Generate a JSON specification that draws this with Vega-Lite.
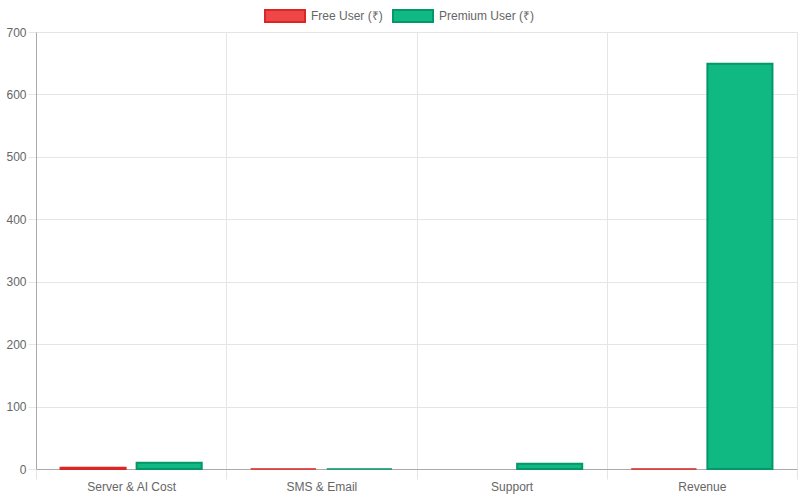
{
  "$schema": "https://vega.github.io/schema/vega-lite/v6.json",
  "width": 761,
  "height": 437,
  "autosize": {"type": "none"},
  "padding": {"left": 36, "top": 32, "right": 3, "bottom": 31},
  "background": "white",
  "config": {
    "font": "Liberation Sans",
    "view": {"stroke": "#e5e5e5", "strokeWidth": 1},
    "axis": {"labelFont": "Liberation Sans", "labelFontSize": 12, "labelColor": "#666666", "gridColor": "#e5e5e5", "tickColor": "#e5e5e5", "domainColor": "#aaaaaa", "title": null}
  },
  "data": {
    "values": [
      {"category": "Server & AI Cost", "series": "Free User (₹)", "value": 2},
      {"category": "Server & AI Cost", "series": "Premium User (₹)", "value": 10},
      {"category": "SMS & Email", "series": "Free User (₹)", "value": 0.1},
      {"category": "SMS & Email", "series": "Premium User (₹)", "value": 0.1},
      {"category": "Support", "series": "Free User (₹)", "value": 0},
      {"category": "Support", "series": "Premium User (₹)", "value": 8.5},
      {"category": "Revenue", "series": "Free User (₹)", "value": 0.1},
      {"category": "Revenue", "series": "Premium User (₹)", "value": 649}
    ]
  },
  "mark": {"type": "bar", "strokeWidth": 2},
  "encoding": {
    "x": {
      "field": "category", "type": "nominal", "sort": null,
      "scale": {"paddingInner": 0, "paddingOuter": 0},
      "axis": {"labelAngle": 0, "tickBand": "extent", "grid": true, "tickSize": 10, "labelPadding": 2, "ticks": true}
    },
    "xOffset": {
      "field": "series", "type": "nominal",
      "scale": {"paddingInner": 0.145, "paddingOuter": 0.3225}
    },
    "y": {
      "field": "value", "type": "quantitative",
      "scale": {"domain": [0, 700], "nice": false},
      "axis": {"values": [0, 100, 200, 300, 400, 500, 600, 700], "tickSize": 8, "labelPadding": 2, "grid": true}
    },
    "fill": {
      "field": "series", "type": "nominal",
      "scale": {"domain": ["Free User (₹)", "Premium User (₹)"], "range": ["#ef4747", "#10b981"]},
      "legend": {
        "orient": "none", "legendX": 228, "legendY": -37, "direction": "horizontal", "title": null,
        "symbolType": "M-1,-0.3H1V0.3H-1Z", "symbolSize": 1600, "symbolStrokeWidth": 2,
        "labelFont": "Liberation Sans", "labelFontSize": 12, "labelColor": "#666666", "labelOffset": 5, "columnPadding": 6
      }
    },
    "stroke": {
      "field": "series", "type": "nominal",
      "scale": {"domain": ["Free User (₹)", "Premium User (₹)"], "range": ["#dc2626", "#059669"]},
      "legend": null
    },
    "strokeWidth": {"condition": {"test": "datum.value < 1", "value": 1}, "value": 2},
    "strokeOpacity": {"condition": {"test": "datum.value == 0", "value": 0}, "value": 1},
    "fillOpacity": {"value": 1}
  }
}
